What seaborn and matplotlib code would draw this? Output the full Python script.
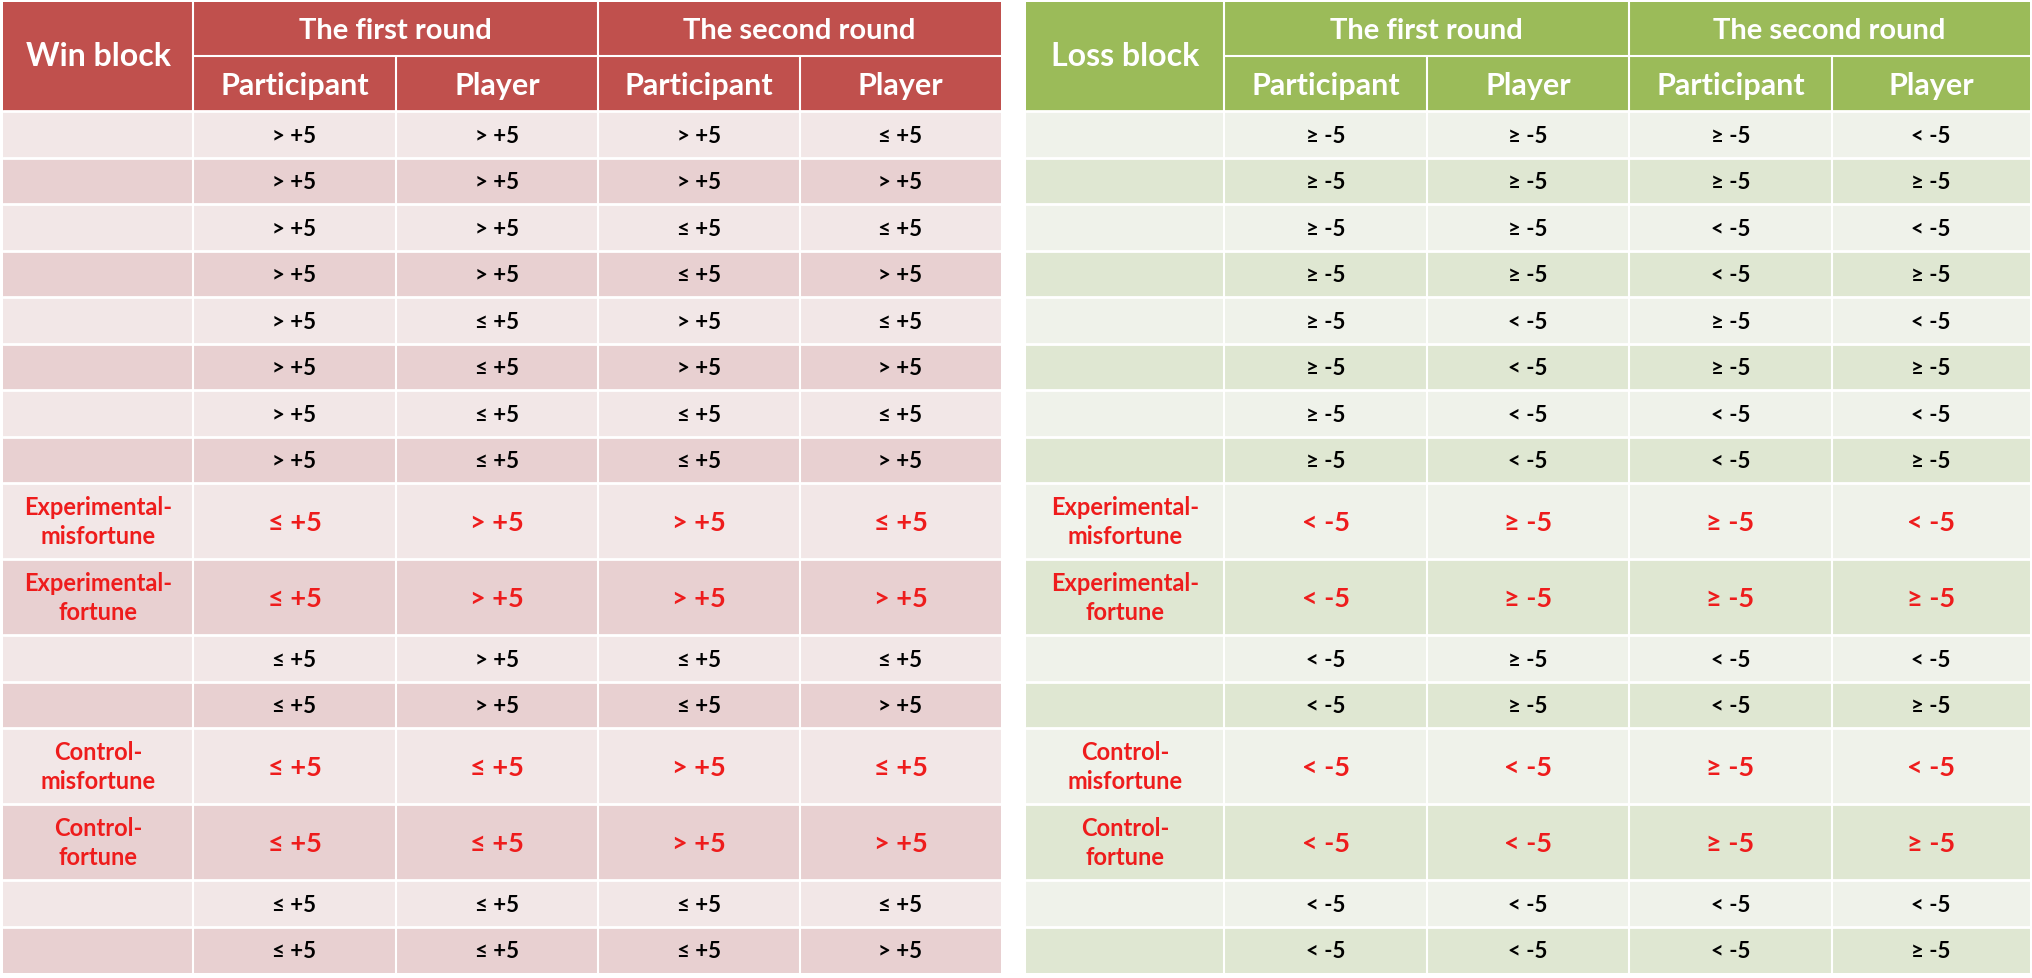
import matplotlib
matplotlib.use("Agg")
import matplotlib.pyplot as plt
import seaborn as sns
from matplotlib.patches import Rectangle

sns.set_theme(style="white")
plt.rcParams['font.family'] = ['Lato', 'DejaVu Sans']

# ---------------- data ----------------
round_titles = ["The first round", "The second round"]
col_titles = ["Participant", "Player", "Participant", "Player"]

win_labels = ["", "", "", "", "", "", "", "",
              "Experimental-\nmisfortune", "Experimental-\nfortune", "", "",
              "Control-\nmisfortune", "Control-\nfortune", "", ""]
win_part1 = ["> +5", "> +5", "> +5", "> +5", "> +5", "> +5", "> +5", "> +5",
             "≤ +5", "≤ +5", "≤ +5", "≤ +5", "≤ +5", "≤ +5", "≤ +5", "≤ +5"]
win_play1 = ["> +5", "> +5", "> +5", "> +5", "≤ +5", "≤ +5", "≤ +5", "≤ +5",
             "> +5", "> +5", "> +5", "> +5", "≤ +5", "≤ +5", "≤ +5", "≤ +5"]
win_part2 = ["> +5", "> +5", "≤ +5", "≤ +5", "> +5", "> +5", "≤ +5", "≤ +5",
             "> +5", "> +5", "≤ +5", "≤ +5", "> +5", "> +5", "≤ +5", "≤ +5"]
win_play2 = ["≤ +5", "> +5", "≤ +5", "> +5", "≤ +5", "> +5", "≤ +5", "> +5",
             "≤ +5", "> +5", "≤ +5", "> +5", "≤ +5", "> +5", "≤ +5", "> +5"]

loss_labels = win_labels
loss_part1 = ["≥ -5", "≥ -5", "≥ -5", "≥ -5", "≥ -5", "≥ -5", "≥ -5", "≥ -5",
              "< -5", "< -5", "< -5", "< -5", "< -5", "< -5", "< -5", "< -5"]
loss_play1 = ["≥ -5", "≥ -5", "≥ -5", "≥ -5", "< -5", "< -5", "< -5", "< -5",
              "≥ -5", "≥ -5", "≥ -5", "≥ -5", "< -5", "< -5", "< -5", "< -5"]
loss_part2 = ["≥ -5", "≥ -5", "< -5", "< -5", "≥ -5", "≥ -5", "< -5", "< -5",
              "≥ -5", "≥ -5", "< -5", "< -5", "≥ -5", "≥ -5", "< -5", "< -5"]
loss_play2 = ["< -5", "≥ -5", "< -5", "≥ -5", "< -5", "≥ -5", "< -5", "≥ -5",
              "< -5", "≥ -5", "< -5", "≥ -5", "< -5", "≥ -5", "< -5", "≥ -5"]

# ---------------- layout ----------------
W, H = 2032, 979
HEAD_TOP, HEAD_MID, HEAD_BOT = 3, 57, 112
ROW_H, TALL_H = 46.5, 76
RED = "#EE1C1C"


def draw_table(ax, xs, corner, labels, cols, head_col, band_cols):
    # row edges: rows with a label are taller
    ys = [HEAD_BOT]
    for lab in labels:
        ys.append(ys[-1] + (TALL_H if lab else ROW_H))

    # header
    ax.add_patch(Rectangle((xs[0], HEAD_TOP), xs[-1] - xs[0], HEAD_BOT - HEAD_TOP,
                           facecolor=head_col, edgecolor="none"))
    ax.text((xs[0] + xs[1]) / 2, (HEAD_TOP + HEAD_BOT) / 2 - 1, corner,
            color="white", fontsize=23, fontweight="bold", ha="center", va="center")
    for k, t in enumerate(round_titles):
        xa, xb = xs[1 + 2 * k], xs[3 + 2 * k]
        ax.text((xa + xb) / 2, (HEAD_TOP + HEAD_MID) / 2 + 1, t,
                color="white", fontsize=21, fontweight="bold", ha="center", va="center")
    for j, t in enumerate(col_titles):
        ax.text((xs[j + 1] + xs[j + 2]) / 2, (HEAD_MID + HEAD_BOT) / 2 + 1, t,
                color="white", fontsize=22, fontweight="bold", ha="center", va="center")
    # header lines
    ax.plot([xs[1], xs[-1]], [HEAD_MID, HEAD_MID], color="white", lw=1.5)
    ax.plot([xs[1], xs[1]], [HEAD_TOP, HEAD_BOT], color="white", lw=1.5)
    ax.plot([xs[3], xs[3]], [HEAD_TOP, HEAD_BOT], color="white", lw=1.5)
    ax.plot([xs[2], xs[2]], [HEAD_MID, HEAD_BOT], color="white", lw=1.5)
    ax.plot([xs[4], xs[4]], [HEAD_MID, HEAD_BOT], color="white", lw=1.5)

    # body
    for i, lab in enumerate(labels):
        y0, y1 = ys[i], ys[i + 1]
        ax.add_patch(Rectangle((xs[0], y0), xs[-1] - xs[0], y1 - y0,
                               facecolor=band_cols[i % 2], edgecolor="none"))
        yc = (y0 + y1) / 2
        hi = bool(lab)
        if hi:
            ax.text((xs[0] + xs[1]) / 2, yc, lab, color=RED, fontsize=17,
                    fontweight="bold", ha="center", va="center", linespacing=1.3)
        for j, col in enumerate(cols):
            ax.text((xs[j + 1] + xs[j + 2]) / 2, yc + 1, col[i],
                    color=RED if hi else "black",
                    fontsize=19.5 if hi else 16, fontweight="bold",
                    ha="center", va="center")
        ax.plot([xs[0], xs[-1]], [y0, y0], color="white", lw=2)

    for x in xs[1:-1]:
        ax.plot([x, x], [HEAD_BOT, ys[-1]], color="white", lw=1.5)


fig = plt.figure(figsize=(W / 100, H / 100), dpi=100)
ax = fig.add_axes([0, 0, 1, 1])
ax.set_xlim(0, W)
ax.set_ylim(H, 0)
ax.axis("off")

draw_table(ax, [3, 193, 396, 598, 800, 1001], "Win block", win_labels,
           [win_part1, win_play1, win_part2, win_play2],
           "#C0504D", ["#F2E7E7", "#E8D0D1"])
draw_table(ax, [1026, 1224, 1427, 1629, 1832, 2030], "Loss block", loss_labels,
           [loss_part1, loss_play1, loss_part2, loss_play2],
           "#9BBB59", ["#EFF2EA", "#DFE7D2"])

fig.savefig("out.png", dpi=100, facecolor="white")
